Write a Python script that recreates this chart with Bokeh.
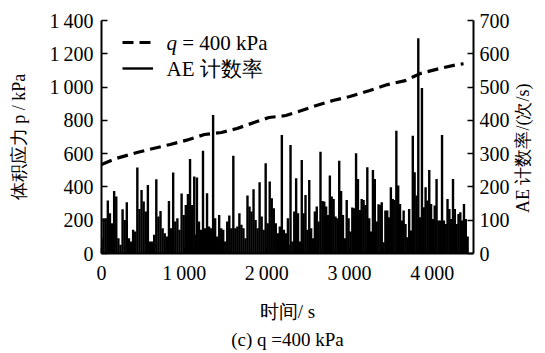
import numpy as np
from bokeh.plotting import figure
from bokeh.models import (Range1d, LinearAxis, FixedTicker, Legend, LegendItem,
                          Label, ColumnDataSource)
from bokeh.embed import file_html
from bokeh.resources import INLINE

# ---------------- data ----------------
# volumetric stress p (kPa) vs time (s), q = 400 kPa
p_time = [0, 170, 430, 625, 830, 1030, 1245, 1450, 1640, 1845, 2025, 2230,
          2420, 2600, 2800, 3005, 3245, 3460, 3675, 3855, 4085, 4300, 4380]
p_val = [535, 570, 607, 631, 655, 681, 715, 727, 751, 787, 817, 829,
         859, 889, 919, 943, 979, 1015, 1039, 1081, 1111, 1135, 1140]

# AE count rate (counts/s), read in four consecutive time segments
ae_seg_a = [46, 106, 106, 159, 121, 91, 188, 171, 46, 26, 133, 101, 154, 46, 36,
            71, 66, 258, 134, 191, 156, 126, 206, 36, 36, 56, 223, 111, 128, 76,
            61, 51, 158, 76, 243, 96, 106, 71, 180, 116, 146, 179, 284, 146, 231]
ae_seg_b = [56, 228, 96, 71, 309, 76, 181, 81, 76, 416, 106, 51, 116, 76, 71,
            36, 96, 114, 76, 294, 76, 81, 121, 86, 76, 46, 174, 141, 126, 193,
            101, 76, 214, 111, 71, 271, 91, 216, 166, 136, 91, 61, 81, 356, 71,
            61, 106]
ae_seg_c = [26, 326, 36, 126, 226, 121, 36, 281, 121, 176, 71, 221, 76, 46, 126,
            141, 96, 306, 158, 156, 141, 116, 234, 171, 164, 111, 106, 279, 188, 116,
            46, 161, 106, 66, 138, 136, 301, 224, 131, 164, 161, 146, 259, 106, 66,
            251, 224, 96, 148, 146]
ae_seg_d = [154, 34, 129, 129, 109, 199, 164, 161, 369, 204, 149, 99, 129, 89, 49,
            134, 69, 354, 244, 174, 647, 109, 497, 139, 199, 159, 251, 149, 104, 144,
            224, 99, 99, 356, 99, 89, 164, 134, 104, 224, 134, 89, 119, 124, 99,
            149, 104, 51]
# start / end time (s) of each segment
ae_seg_bounds = [(0, 1122), (1130, 2255), (2264, 3374), (3390, 4429)]

x_ticks = [0, 1000, 2000, 3000, 4000]
x_tick_labels = ["0", "1\u2009000", "2\u2009000", "3\u2009000", "4\u2009000"]
p_ticks = [0, 200, 400, 600, 800, 1000, 1200, 1400]
p_tick_labels = ["0", "200", "400", "600", "800", "1\u2009000", "1\u2009200", "1\u2009400"]
ae_ticks = [0, 100, 200, 300, 400, 500, 600, 700]

x_label = "时间/ s"
p_label = "体积应力 p / kPa"
ae_label = "AE 计数率/(次/s)"
legend_p_parts = ["q", "\u00a0= 400 kPa"]
legend_ae = "AE 计数率"
caption = "(c) q =400 kPa"

# ---------------- build ----------------
ae_t, ae_c = [], []
for (t0, t1), seg in zip(ae_seg_bounds, [ae_seg_a, ae_seg_b, ae_seg_c, ae_seg_d]):
    ae_t.extend(np.linspace(t0, t1, len(seg)).tolist())
    ae_c.extend(seg)

FONT = "Liberation Serif"

p = figure(width=545, height=353, output_backend="svg", toolbar_location=None,
           x_range=Range1d(0, 4500), y_range=Range1d(0, 1400), title=None,
           min_border_left=101, min_border_right=68, min_border_top=20,
           min_border_bottom=100, background_fill_color="white",
           border_fill_color="white")
p.extra_y_ranges = {"ae": Range1d(0, 700)}
p.grid.visible = False
p.outline_line_color = None

src_ae = ColumnDataSource(dict(t=ae_t, c=ae_c, z=[0] * len(ae_c)))
seg_r = p.segment(x0="t", y0="z", x1="t", y1="c", source=src_ae, y_range_name="ae",
                  line_color="black", line_width=2.4)
line_r = p.line(p_time, p_val, line_color="black", line_width=3.2, line_dash="11 6")


def style_axis(ax, standoff):
    ax.axis_line_width = 2
    ax.axis_line_color = "black"
    ax.major_tick_in = 6
    ax.major_tick_out = 0
    ax.major_tick_line_width = 1.6
    ax.minor_tick_line_color = None
    ax.major_label_text_font = FONT
    ax.major_label_text_font_size = "20px"
    ax.major_label_text_color = "black"
    ax.major_label_standoff = standoff
    ax.axis_label_text_font = FONT
    ax.axis_label_text_font_size = "18px"
    ax.axis_label_text_font_style = "normal"
    ax.axis_label_text_color = "black"


xa = p.xaxis[0]
xa.ticker = FixedTicker(ticks=x_ticks)
xa.major_label_overrides = {t: l for t, l in zip(x_ticks, x_tick_labels)}
# x label and the panel caption share the space below the axis
xa.axis_label = x_label + "\n" + caption
style_axis(xa, 8)
xa.axis_label_text_font_size = "19px"
xa.axis_label_text_line_height = 1.38
xa.axis_label_standoff = 14

ya = p.yaxis[0]
ya.ticker = FixedTicker(ticks=p_ticks)
ya.major_label_overrides = {t: l for t, l in zip(p_ticks, p_tick_labels)}
ya.axis_label = p_label
style_axis(ya, 8)
ya.axis_label_standoff = 17

ra = LinearAxis(y_range_name="ae", ticker=FixedTicker(ticks=ae_ticks),
                axis_label="\u00a0" * 9 + ae_label)
style_axis(ra, 6)
ra.axis_label_standoff = 10
ra.axis_label_orientation = np.pi / 2
ra.axis_label_align = "start"
p.add_layout(ra, "right")

# legend glyphs (texts drawn as labels so that q can be italic)
legend = Legend(items=[LegendItem(label=" ", renderers=[line_r]),
                       LegendItem(label=" ", renderers=[seg_r])],
                location=(21, 174), margin=0, padding=0, spacing=4,
                glyph_width=31, glyph_height=22, label_height=22, label_standoff=13,
                label_text_font=FONT, label_text_font_size="1px",
                border_line_alpha=0, background_fill_alpha=0)
p.add_layout(legend)


def lab(text, x, y, size, style="normal"):
    p.add_layout(Label(x=x, y=y, x_units="screen", y_units="screen", text=text,
                       text_font=FONT, text_font_size=size, text_font_style=style,
                       text_color="black", text_baseline="middle", text_align="left"))


lab(legend_p_parts[0], 65, 211, "21px", "italic")
lab(legend_p_parts[1], 75.5, 211, "21px")
lab(legend_ae, 65, 185, "21px")

open("out.html", "w").write(file_html(p, INLINE))
